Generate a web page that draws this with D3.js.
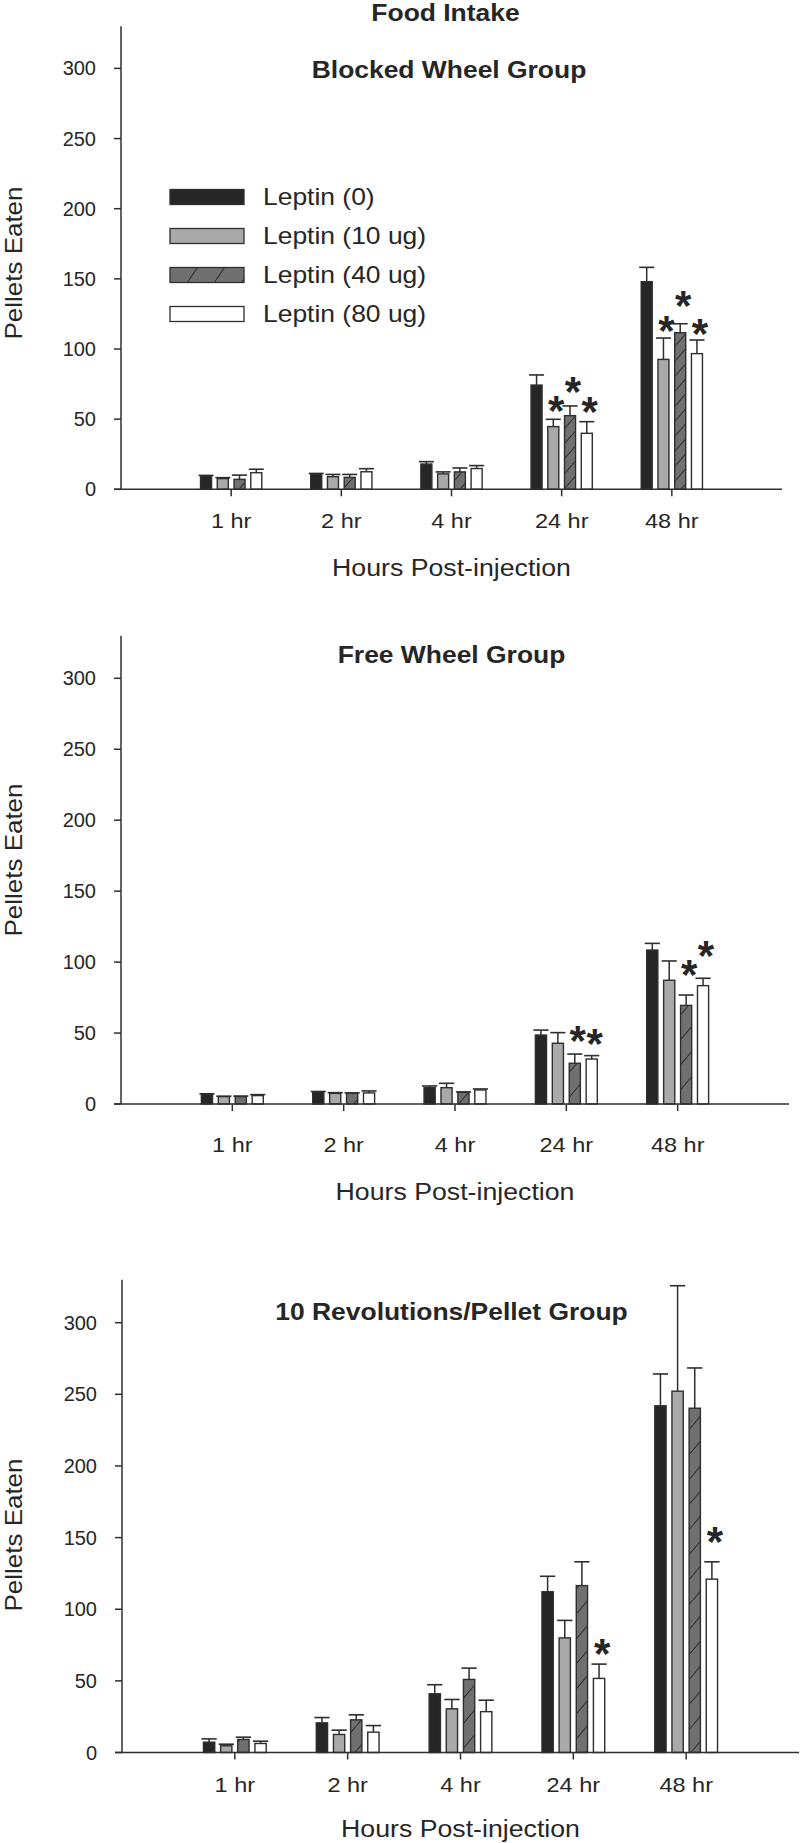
<!DOCTYPE html>
<html><head><meta charset="utf-8">
<script src="https://cdn.jsdelivr.net/npm/d3@7"></script>
<style>
html,body{margin:0;padding:0;background:#fff;}
svg{display:block;}
text{font-family:"Liberation Sans",Arial,Helvetica,sans-serif;fill:#262626;}
</style></head>
<body>
<svg id="chart" width="800" height="1843"></svg>
<script>
// ---------------- DATA ----------------
const categories = ["1 hr", "2 hr", "4 hr", "24 hr", "48 hr"];
const seriesNames = ["Leptin (0)", "Leptin (10 ug)", "Leptin (40 ug)", "Leptin (80 ug)"];
const yTicks = [0, 50, 100, 150, 200, 250, 300];
const yMax = 330;

// Blocked Wheel Group: means and SEM per series (across categories)
const blockedMean0  = [9.5, 10.9, 18.0, 74.3, 148.0];
const blockedMean10 = [7.6, 9.0, 11.0, 44.7, 92.6];
const blockedMean40 = [7.1, 8.5, 12.4, 52.5, 111.6];
const blockedMean80 = [11.8, 12.5, 14.8, 39.9, 96.7];
const blockedErr0   = [0.4, 0.4, 1.7, 7.2, 10.2];
const blockedErr10  = [0.7, 1.6, 1.4, 5.2, 15.2];
const blockedErr40  = [3.0, 2.1, 2.8, 6.9, 6.4];
const blockedErr80  = [2.5, 2.2, 2.1, 8.3, 9.7];
// significance markers: [categoryIndex, seriesIndex, level]
const blockedStars = [[3,1,62.4],[3,2,76.0],[3,3,61.4],[4,1,119.5],[4,2,137.3],[4,3,117.1]];

// Free Wheel Group
const freeMean0  = [6.8, 8.5, 11.5, 48.6, 108.5];
const freeMean10 = [5.2, 7.5, 11.5, 42.8, 87.2];
const freeMean40 = [5.2, 7.5, 8.2, 28.7, 69.5];
const freeMean80 = [5.9, 7.8, 9.9, 31.7, 83.4];
const freeErr0   = [0.4, 0.3, 1.2, 3.5, 4.7];
const freeErr10  = [0.3, 0.5, 3.1, 7.5, 13.6];
const freeErr40  = [0.4, 0.3, 0.3, 6.5, 7.3];
const freeErr80  = [0.7, 1.4, 0.7, 2.4, 5.2];
const freeStars = [[3,2,51.0],[3,3,48.6],[4,2,97.2],[4,3,110.8]];

// 10 Revolutions/Pellet Group
const revMean0  = [7.2, 20.7, 41.0, 112.2, 242.0];
const revMean10 = [4.7, 12.6, 30.5, 80.0, 252.2];
const revMean40 = [9.1, 22.8, 51.0, 116.5, 240.3];
const revMean80 = [6.3, 14.2, 28.5, 51.7, 121.0];
const revErr0   = [2.3, 3.7, 6.3, 10.8, 22.2];
const revErr10  = [1.1, 3.0, 6.5, 12.2, 73.6];
const revErr40  = [1.6, 3.5, 7.9, 16.6, 28.1];
const revErr80  = [1.6, 4.6, 8.0, 10.0, 12.1];
const revStars = [[3,3,75.0],[4,3,153.0]];

const panelTitles = ["Blocked Wheel Group", "Free Wheel Group", "10 Revolutions/Pellet Group"];
const mainTitle = "Food Intake";
const xTitle = "Hours Post-injection";
const yTitle = "Pellets Eaten";

// ---------------- LAYOUT / STYLE ----------------
const panelData = [
  {means:[blockedMean0,blockedMean10,blockedMean40,blockedMean80], errs:[blockedErr0,blockedErr10,blockedErr40,blockedErr80], stars:blockedStars},
  {means:[freeMean0,freeMean10,freeMean40,freeMean80], errs:[freeErr0,freeErr10,freeErr40,freeErr80], stars:freeStars},
  {means:[revMean0,revMean10,revMean40,revMean80], errs:[revErr0,revErr10,revErr40,revErr80], stars:revStars}
];
const layout = [
  {base:489.3, ppu:1.403, left:121, right:782, titleX:449, titleY:70, ylabY:263, xtickOff:31.4, xtitleOff:77.7, hatch:[13,15]},
  {base:1104, ppu:1.419, left:121, right:789, titleX:451.5, titleY:655, ylabY:860, xtickOff:41, xtitleOff:87.7, hatch:[21,25]},
  {base:1752.5, ppu:1.4327, left:122, right:799, titleX:451.5, titleY:1311.7, ylabY:1535, xtickOff:32.5, xtitleOff:75.5, hatch:[21,25]}
];
const fills = ["#262626", "#a9a9a9", "#707070", "#ffffff"];
const ink = "#2e2e2e";
const barPitch = 0.152, barW = 0.1;
const starSize = 42;

const svg = d3.select("#chart");
const defs = svg.append("defs");

function hatchPattern(id, w, h) {
  const p = defs.append("pattern").attr("id", id).attr("patternUnits", "userSpaceOnUse")
    .attr("width", w).attr("height", h);
  p.append("rect").attr("width", w).attr("height", h).attr("fill", fills[2]);
  p.append("path").attr("d", `M0,${h} L${w},0 M${-w},${h} L0,0 M${w},${2*h} L${2*w},${h}`)
    .attr("stroke", ink).attr("stroke-width", 1.1).attr("fill", "none");
}
layout.forEach((L, i) => hatchPattern("hatch" + i, L.hatch[0], L.hatch[1]));
hatchPattern("hatchLegend", 27, 40);

function addText(g, x, y, str, o) {
  const t = g.append("text")
    .attr("transform", `translate(${x},${y})` + (o.rotate ? ` rotate(${o.rotate})` : "") + ` scale(${o.sx || 1},1)`)
    .attr("text-anchor", o.anchor || "middle")
    .attr("dominant-baseline", o.baseline || "central")
    .style("font-size", o.size + "px")
    .style("font-weight", o.weight || "normal")
    .text(str);
  return t;
}

// main title
addText(svg, 445.5, 13, mainTitle, {size:23, weight:"bold", sx:1.15});

layout.forEach((L, pi) => {
  const D = panelData[pi];
  const g = svg.append("g");
  const x = d3.scaleLinear().domain([-1, 5]).range([L.left, L.right]);
  const y = d3.scaleLinear().domain([0, yMax]).range([L.base, L.base - yMax * L.ppu]);

  // bars
  D.means.forEach((vals, s) => {
    vals.forEach((v, c) => {
      const cx = x(c + (s - 1.5) * barPitch);
      const bw = x(barW) - x(0);
      const e = D.errs[s][c];
      // error bar (upper only)
      g.append("line").attr("x1", cx).attr("x2", cx).attr("y1", y(v)).attr("y2", y(v + e))
        .attr("stroke", ink).attr("stroke-width", 1.5);
      g.append("line").attr("x1", cx - bw/2 - 2).attr("x2", cx + bw/2 + 2).attr("y1", y(v + e)).attr("y2", y(v + e))
        .attr("stroke", ink).attr("stroke-width", 1.6);
      g.append("rect").attr("x", cx - bw/2).attr("y", y(v)).attr("width", bw).attr("height", y(0) - y(v))
        .attr("fill", s === 2 ? `url(#hatch${pi})` : fills[s])
        .attr("stroke", ink).attr("stroke-width", 1.4);
    });
  });

  // stars
  D.stars.forEach(([c, s, lvl]) => {
    const cx = x(c + (s - 1.5) * barPitch) + 3;
    g.append("text").attr("x", cx).attr("y", y(lvl) + 0.55 * starSize)
      .attr("text-anchor", "middle").style("font-size", starSize + "px").style("font-weight", "bold").text("*");
  });

  // y axis
  const yTop = y(yMax);
  g.append("line").attr("x1", L.left).attr("x2", L.left).attr("y1", yTop).attr("y2", L.base)
    .attr("stroke", ink).attr("stroke-width", 1.5);
  yTicks.forEach(t => {
    g.append("line").attr("x1", L.left - 7).attr("x2", L.left).attr("y1", y(t)).attr("y2", y(t))
      .attr("stroke", ink).attr("stroke-width", 1.5);
    addText(g, L.left - 25, y(t), String(t), {size:20, anchor:"end"});
  });
  // x axis
  g.append("line").attr("x1", L.left - 7).attr("x2", L.right).attr("y1", L.base).attr("y2", L.base)
    .attr("stroke", ink).attr("stroke-width", 1.5);
  categories.forEach((c, i) => {
    g.append("line").attr("x1", x(i)).attr("x2", x(i)).attr("y1", L.base).attr("y2", L.base + 7)
      .attr("stroke", ink).attr("stroke-width", 1.5);
    addText(g, x(i), L.base + L.xtickOff, c, {size:21, sx:1.12});
  });
  addText(g, (x(-1) + x(5)) / 2, L.base + L.xtitleOff, xTitle, {size:24.5, sx:1.09});
  addText(g, 13, L.ylabY, yTitle, {size:24.5, rotate:-90, sx:1.06});
  addText(g, L.titleX, L.titleY, panelTitles[pi], {size:23, weight:"bold", sx:1.15});
});

// legend (panel 1)
const legY = [197, 236, 275, 314];
const lg = svg.append("g");
seriesNames.forEach((n, i) => {
  lg.append("rect").attr("x", 170).attr("y", legY[i] - 7.5).attr("width", 74).attr("height", 15)
    .attr("fill", i === 2 ? "url(#hatchLegend)" : fills[i]).attr("stroke", ink).attr("stroke-width", 1.3);
  addText(lg, 263, legY[i], n, {size:23, anchor:"start", sx:1.15});
});
</script>
</body></html>
